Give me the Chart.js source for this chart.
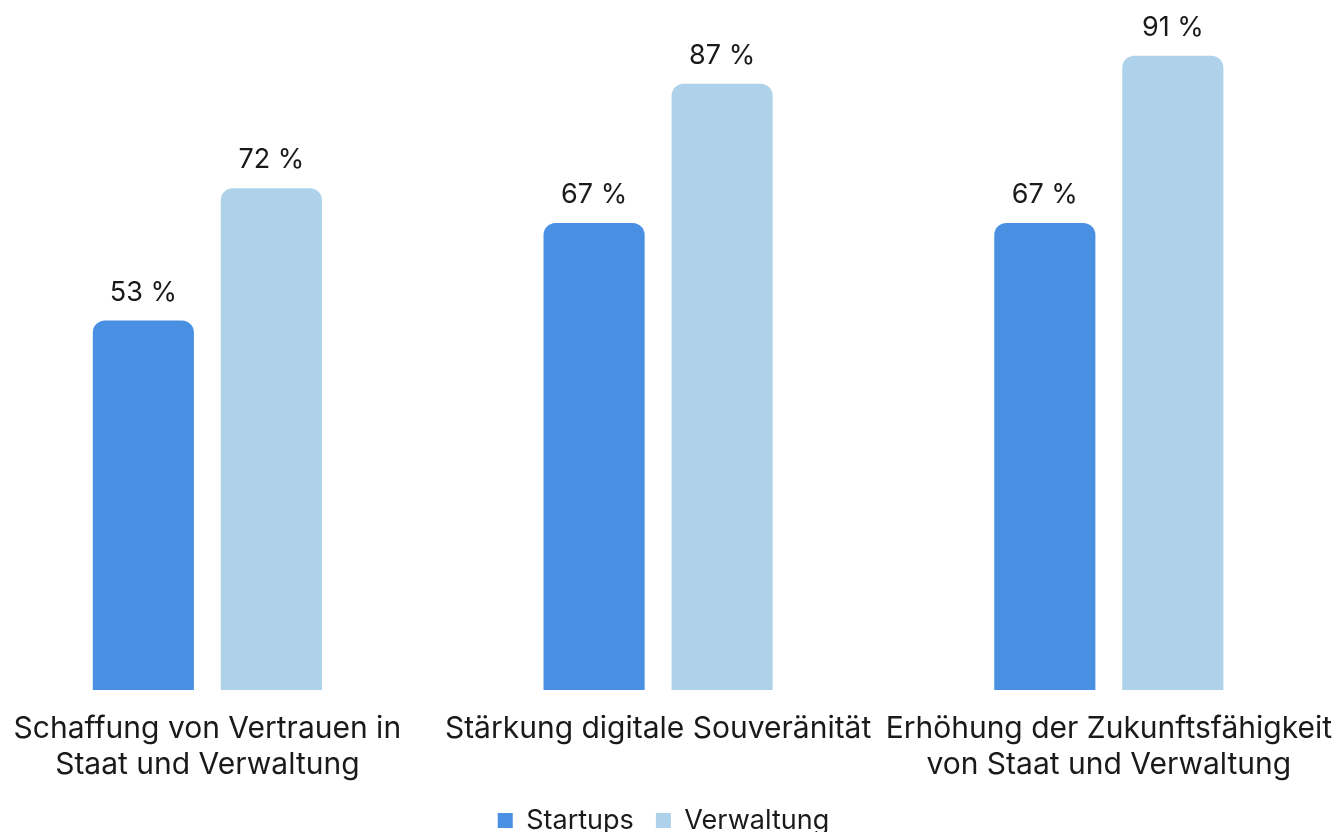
<!DOCTYPE html>
<html lang="de">
<head>
<meta charset="utf-8">
<title>Startups und Verwaltung</title>
<script src="https://cdn.jsdelivr.net/npm/chart.js@4"></script>
<style>
  html, body { margin: 0; padding: 0; background: #fff; overflow: hidden; }
  #wrap { position: absolute; left: -18px; top: 0; width: 1363px; height: 844px; }
</style>
</head>
<body>
<div id="wrap"><canvas id="myChart"></canvas></div>
<script>
// categories (multi-line labels) and series values in percent
const categories = [
  ['Schaffung von Vertrauen in', 'Staat und Verwaltung'],
  'Stärkung digitale Souveränität',
  ['Erhöhung der Zukunftsfähigkeit', 'von Staat und Verwaltung']
];
const startups = [53, 67, 67];
const verwaltung = [72, 87, 91];
const seriesNames = ['Startups', 'Verwaltung'];

const fontFamily = 'Inter, "Noto Sans", sans-serif';
const textColor = '#1a1a1a';

// writes "NN %" above each bar
const valueLabels = {
  id: 'valueLabels',
  afterDatasetsDraw(chart) {
    const ctx = chart.ctx;
    ctx.save();
    ctx.font = '400 27px ' + fontFamily;
    ctx.fillStyle = textColor;
    ctx.textAlign = 'center';
    ctx.textBaseline = 'middle';
    chart.data.datasets.forEach((ds, i) => {
      chart.getDatasetMeta(i).data.forEach((bar, j) => {
        ctx.fillText(ds.data[j] + ' %', bar.x, bar.y - 28);
      });
    });
    ctx.restore();
  }
};

var ctx = document.getElementById('myChart').getContext('2d');

var myChart = new Chart(ctx, {
  type: 'bar',
  data: {
    labels: categories,
    datasets: [{
      label: seriesNames[0],
      data: startups,
      backgroundColor: '#4a90e2',
      borderRadius: { topLeft: 12, topRight: 12 },
      borderSkipped: 'bottom'
    }, {
      label: seriesNames[1],
      data: verwaltung,
      backgroundColor: '#aed2ea',
      borderRadius: { topLeft: 12, topRight: 12 },
      borderSkipped: 'bottom'
    }]
  },
  options: {
    responsive: true,
    maintainAspectRatio: false,
    animation: false,
    categoryPercentage: 0.568,
    barPercentage: 0.79,
    layout: { padding: 0 },
    plugins: {
      legend: {
        position: 'bottom',
        labels: {
          boxWidth: 15,
          boxHeight: 15,
          padding: 22,
          color: textColor,
          font: { family: fontFamily, size: 27 }
        }
      },
      tooltip: { enabled: false }
    },
    scales: {
      x: {
        grid: { display: false },
        border: { display: false },
        ticks: {
          color: textColor,
          padding: 13,
          maxRotation: 0,
          autoSkip: false,
          font: { family: fontFamily, size: 30, lineHeight: 1.2 }
        },
        // let the legend sit a bit closer under the two-line labels
        afterFit: (scale) => { scale.height -= 11; }
      },
      y: {
        display: false,
        min: 0,
        max: 99
      }
    }
  },
  plugins: [valueLabels]
});
</script>
</body>
</html>
